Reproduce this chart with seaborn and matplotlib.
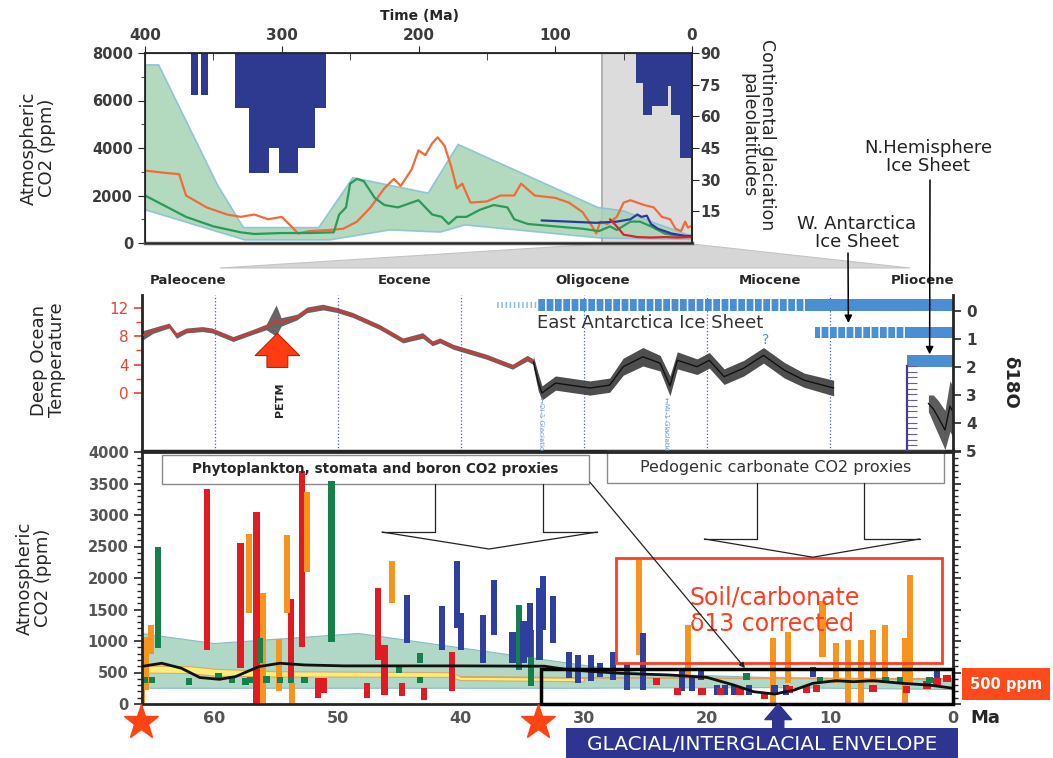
import numpy as np
import pandas as pd
import matplotlib.pyplot as plt
import seaborn as sns
from matplotlib.patches import Rectangle, Polygon
from matplotlib.ticker import MultipleLocator, FixedLocator
from matplotlib.transforms import blended_transform_factory as btf

sns.set_style('ticks')
plt.rcParams['font.family'] = ['DejaVu Sans']
plt.rcParams['hatch.color'] = 'white'
plt.rcParams['hatch.linewidth'] = 1.1

# === TOP PANEL DATA: 400 Ma -> 0 (ppm) ===
env_up_t = [400, 390, 347, 328, 273, 248, 193, 171, 69, 50, 30, 0]
env_up_v = [7500, 7500, 2450, 650, 650, 2750, 2100, 4150, 1500, 1350, 900, 280]
env_lo_t = [400, 327, 265, 221, 184, 166, 67, 0]
env_lo_v = [1400, 130, 130, 550, 460, 760, 210, 150]

orange_t = [400, 385, 375, 370, 355, 340, 330, 320, 310, 300, 293, 288, 280, 265, 255, 245,
            235, 225, 218, 213, 205, 200, 195, 190, 186, 181, 176, 172, 168, 162, 150, 140,
            130, 125, 115, 100, 90, 80, 73, 70, 67, 62, 55, 50, 45, 35, 28, 22, 16, 12, 8, 5, 3, 1]
orange_v = [3050, 2950, 2900, 2000, 1500, 1200, 1100, 1200, 1000, 1100, 700, 400, 500, 550, 600, 900,
            1500, 2300, 2700, 2400, 3100, 3900, 3700, 4200, 4450, 4100, 3200, 2300, 2500, 1700, 1750, 2000,
            2000, 2500, 2000, 1900, 1700, 1300, 700, 400, 900, 800, 1100, 1700, 1800, 1600, 1500, 1100, 1000, 600, 500, 900, 650, 700]
green_t = [400, 390, 370, 350, 330, 320, 300, 280, 262, 258, 253, 250, 245, 240, 232, 225, 215,
           205, 200, 195, 190, 183, 178, 172, 165, 155, 145, 135, 130, 120, 100, 80, 68, 60, 55,
           45, 38, 30, 20, 10, 0]
green_v = [2000, 1700, 1100, 700, 450, 380, 420, 420, 450, 1200, 1500, 2500, 2700, 2600, 1900, 1600, 1500,
           1700, 1800, 1500, 1200, 1100, 800, 1100, 1100, 1400, 1600, 1500, 1000, 800, 700, 600, 500, 700, 550,
           900, 900, 700, 400, 300, 280]
blue_t = [110, 90, 70, 55, 45, 40, 37, 33, 30, 25, 20, 15, 10, 5, 0]
blue_v = [950, 900, 850, 900, 1000, 1200, 1100, 1150, 800, 600, 500, 400, 350, 300, 300]
red_t = [60, 55, 50, 40, 30, 20, 10, 0]
red_v = [1000, 700, 350, 250, 230, 250, 230, 250]

# continental glaciation: older Ma, younger Ma, lowest paleolatitude
glac_old = [366, 359, 334, 324, 324, 302, 41.0, 35.6, 29.0, 17.3, 15.4, 8.8]
glac_young = [361, 354, 268, 276, 309, 288, 35.6, 29.0, 17.3, 15.4, 8.8, 0.0]
glac_lat = [70, 70, 64, 45, 33, 33, 75.6, 60.4, 65.1, 74.6, 60.4, 40.1]

# === MIDDLE PANEL DATA ===
temp1_ma = [66.0, 65.0, 63.7, 63.1, 62.3, 61.0, 60.2, 58.5, 56.9, 55.8, 55.0, 54.6, 53.3, 52.5,
            51.2, 50.1, 48.8, 46.6, 44.7, 43.1, 42.3, 41.7, 40.6, 37.9, 35.8, 34.6, 34.1]
temp1 = [8.0, 8.8, 9.5, 8.1, 8.8, 9.0, 8.8, 7.6, 8.6, 9.3, 10.2, 10.0, 10.7, 11.7,
         12.1, 11.7, 11.0, 9.3, 7.4, 8.1, 7.0, 7.4, 6.5, 5.1, 3.7, 4.9, 4.4]
temp1_sd = [0.7, 0.4, 0.35, 0.4, 0.35, 0.35, 0.35, 0.35, 0.35, 0.4, 2.2, 0.6, 0.4, 0.4,
            0.4, 0.35, 0.35, 0.35, 0.35, 0.4, 0.35, 0.35, 0.35, 0.35, 0.35, 0.4, 0.4]
temp2_ma = [34.1, 33.7, 33.4, 32.3, 30.3, 29.5, 27.9, 26.8, 25.2, 23.8, 23.0, 22.4, 20.8, 19.8,
            18.6, 17.0, 15.4, 13.7, 12.1, 9.7]
temp2 = [4.4, 1.5, 0.0, 1.4, 0.9, 0.7, 1.1, 3.7, 5.1, 4.2, 1.0, 4.6, 3.7, 4.6,
         2.3, 3.5, 5.3, 3.2, 1.8, 0.7]
temp2_sd = [0.8, 1.2, 1.0, 1.0, 1.0, 1.0, 1.0, 1.2, 1.3, 1.1, 1.4, 1.2, 1.1, 1.1,
            1.1, 1.1, 1.1, 1.1, 1.0, 1.1]
plio_ma = [2.0, 1.6, 1.2, 0.65, 0.25, 0.0]
plio_d18 = [3.3, 3.5, 3.8, 4.25, 3.4, 3.6]
plio_sd = [0.3, 0.5, 0.6, 0.7, 0.9, 0.9]

epoch_names = ['Paleocene', 'Eocene', 'Oligocene', 'Miocene', 'Pliocene']
epoch_mid = [62.2, 44.6, 29.3, 14.9, 2.5]
grid_ma = [60, 50, 40, 30, 20, 10]
event_ma = [33.5, 23.3]
event_names = ['\u2190Oi-1 Glaciation', '\u2190Mi-1 Glaciation']

# ice sheets on d18O axis
ice_top = [-0.42, 0.57, 1.57]
ice_bot = [0.0, 0.96, 2.0]
ice_onset = [33.8, 11.2, 3.7]
ice_full = [11.6, 3.4, 3.7]
ea_precursor = 37.1

# === BOTTOM PANEL DATA: proxies (Ma, low ppm, high ppm) ===
red_ma = [60.6, 57.9, 56.6, 53.8, 52.9, 51.6, 51.1, 47.6, 46.7, 46.2, 44.8, 43.0, 40.7]
red_lo = [860, 570, 0, 330, 910, 90, 170, 90, 700, 140, 120, 60, 200]
red_hi = [3420, 2560, 3045, 1665, 3700, 410, 410, 330, 1840, 940, 330, 250, 830]
org_ma = [65.9, 65.6, 65.2, 57.2, 56.1, 54.8, 54.1, 53.7, 52.5, 45.6, 25.5, 21.5,
          14.6, 13.4, 10.6, 9.5, 8.5, 7.5, 6.5, 5.5, 3.9, 3.5]
org_lo = [0, 220, 800, 1450, 0, 200, 1440, 0, 2100, 1610, 780, 435,
          0, 330, 750, 330, 0, 0, 330, 380, 0, 330]
org_hi = [280, 1070, 1260, 2700, 1760, 1030, 2690, 330, 3370, 2265, 2290, 1255,
          1045, 1150, 1630, 965, 1020, 1020, 1175, 1255, 1045, 2050]
grn_ma = [64.6, 56.3, 50.5, 43.3, 35.3, 34.3]
grn_lo = [885, 650, 990, 650, 540, 330]
grn_hi = [2490, 1045, 3540, 805, 1575, 1180]
blu_ma = [44.4, 41.5, 40.3, 40.0, 38.2, 37.3, 35.8, 34.9, 34.4, 33.6, 33.3, 32.5,
          31.2, 30.5, 29.4, 28.7, 27.6, 26.5, 25.2, 22.0, 21.2, 20.5,
          19.2, 18.5, 17.8, 16.6, 14.5, 13.6, 11.4, 1.3]
blu_lo = [965, 860, 1200, 860, 650, 1100, 650, 650, 750, 700, 1180, 965,
          420, 330, 360, 430, 380, 220, 220, 200, 200, 380,
          140, 140, 140, 140, 150, 150, 430, 380]
blu_hi = [1735, 1550, 2265, 1440, 1415, 1970, 1150, 1310, 1600, 1840, 2030, 1720,
          820, 780, 780, 650, 830, 640, 1120, 540, 450, 570,
          300, 300, 300, 300, 300, 300, 590, 560]
red_sq_ma = [24.1, 22.4, 20.4, 18.9, 17.3, 15.3, 13.3, 11.9, 11.1, 6.5, 3.8, 2.1, 1.3, 0.5]
red_sq_ppm = [355, 195, 195, 195, 195, 140, 225, 225, 250, 250, 225, 300, 355, 400]
grn_sq_ma = [65.7, 65.1, 62.1, 59.7, 58.6, 57.5, 57.1, 55.8, 54.7, 53.8, 52.7, 45.0, 43.3, 34.3,
             16.8, 10.8, 5.5, 4.3, 1.9]
grn_sq_ppm = [380, 380, 355, 435, 390, 355, 380, 390, 380, 380, 380, 550, 380, 330,
              435, 380, 380, 380, 380]

co2_env_up_ma = [66, 60, 48.3, 31.3, 25, 15, 0]
co2_env_up = [1120, 960, 1120, 650, 480, 420, 380]
co2_env_lo_ma = [66, 31, 15, 0]
co2_env_lo = [250, 250, 260, 230]
yel_ma = [66, 62, 60, 55, 50, 41, 40, 35, 30]
yel_hi = [610, 600, 560, 520, 515, 505, 440, 430, 420]
yel_lo = [500, 490, 450, 435, 435, 430, 380, 370, 360]
brn_ma = [40, 30, 20, 10, 0]
brn_v = [430, 415, 410, 405, 400]
smooth_ma = [66, 64.3, 62.7, 61.2, 59.6, 58.3, 56.4, 54.7, 52.7, 49.5, 40, 33.2, 31.1, 27.0,
             23.0, 20.0, 17.8, 16.2, 14.5, 12.9, 11.4, 9.5, 8.1, 6.5, 4.1, 1.9, 0.0]
smooth_ppm = [594, 647, 568, 420, 392, 435, 594, 647, 620, 605, 605, 600, 540, 487,
              460, 423, 300, 195, 158, 222, 328, 370, 354, 370, 328, 300, 250]
star_ma = [66.0, 33.7]

W, H = 1053, 758


def fr(x0, y0, x1, y1):
    return [x0 / W, 1 - y1 / H, (x1 - x0) / W, (y1 - y0) / H]


def ftext(x, y, s, **kw):
    return fig.text(x / W, 1 - y / H, s, **kw)


def frect(x0, y0, x1, y1, **kw):
    fig.add_artist(Rectangle((x0 / W, 1 - y1 / H), (x1 - x0) / W, (y1 - y0) / H,
                             transform=fig.transFigure, **kw))


tick_gray = '#3c3c3c'
fig = plt.figure(figsize=(10.53, 7.58), dpi=100)

# === TOP PANEL ===
ax_t = fig.add_axes(fr(145, 53, 692, 243))
ax_t.set_xlim(400, 0)
ax_t.set_ylim(0, 8000)
ax_t.axvspan(66, 0, color='#dcdcdc', zorder=0)
ax_t.axvline(66, color='#a8a8a8', lw=1.2, zorder=0.5)
ax_t.fill(env_up_t + env_lo_t[::-1], env_up_v + env_lo_v[::-1], fc='#a6d3b4', ec='#86bfd4',
          lw=1.2, alpha=0.85, zorder=1)
sns.lineplot(x=orange_t, y=orange_v, ax=ax_t, color='#f26a3a', lw=1.6, sort=False, estimator=None, zorder=3)
sns.lineplot(x=green_t, y=green_v, ax=ax_t, color='#2a9a58', lw=1.6, sort=False, estimator=None, zorder=3)
sns.lineplot(x=blue_t, y=blue_v, ax=ax_t, color='#2b3a9a', lw=1.6, sort=False, estimator=None, zorder=3)
sns.lineplot(x=red_t, y=red_v, ax=ax_t, color='#e3202a', lw=1.6, sort=False, estimator=None, zorder=3)
ax_t.set_xlabel('')
ax_t.set_ylabel('')
ax_t.xaxis.tick_top()
ax_t.set_xticks([400, 300, 200, 100, 0])
ax_t.xaxis.set_minor_locator(MultipleLocator(50))
ax_t.tick_params(axis='x', which='major', direction='out', length=5, labelsize=11, pad=2)
ax_t.tick_params(axis='x', which='minor', direction='in', length=5)
ax_t.set_yticks([0, 2000, 4000, 6000, 8000])
ax_t.yaxis.set_minor_locator(MultipleLocator(1000))
ax_t.tick_params(axis='y', which='major', length=5, labelsize=10.5)
ax_t.tick_params(axis='y', which='minor', length=3)
for lab in ax_t.get_xticklabels() + ax_t.get_yticklabels():
    lab.set_fontweight('bold')
    lab.set_color(tick_gray)
for s in ax_t.spines.values():
    s.set_linewidth(1.3)
ax_t.spines['bottom'].set_color('#5a5a5a')
ax_t.spines['bottom'].set_linewidth(2.5)

ax_g = ax_t.twinx()
ax_g.set_ylim(0, 90)
g_center = [(a + b) / 2 for a, b in zip(glac_old, glac_young)]
g_width = [a - b for a, b in zip(glac_old, glac_young)]
ax_g.bar(g_center, [90 - v for v in glac_lat], bottom=glac_lat, width=g_width,
         color='#2e3a8f', linewidth=0, zorder=2)
ax_g.set_yticks([15, 30, 45, 60, 75, 90])
ax_g.tick_params(axis='y', length=5, labelsize=10.5, pad=1)
for lab in ax_g.get_yticklabels():
    lab.set_fontweight('bold')
    lab.set_color(tick_gray)
ax_g.spines['right'].set_linewidth(1.3)

ftext(420, 16, 'Time (Ma)', fontweight='bold', fontsize=10, ha='center', va='center')
ftext(38, 148, 'Atmospheric\nCO2 (ppm)', rotation=90, fontsize=13, ha='center', va='center',
      linespacing=1.05)
ftext(758, 135, 'Continental glaciation\npaleolatitudes', rotation=270, fontsize=12.5,
      ha='center', va='center', linespacing=1.05)

# zoom wedge from top panel to Cenozoic panels
fig.add_artist(Polygon([(600 / W, 1 - 244 / H), (692 / W, 1 - 244 / H), (910 / W, 1 - 268 / H),
                        (220 / W, 1 - 268 / H)], closed=True, transform=fig.transFigure,
                       fc='#d6d6d6', ec='#c4c4c4', lw=0.8, zorder=0))

# === MIDDLE PANEL ===
ax_m = fig.add_axes(fr(142, 295, 953, 451))
ax_m.set_xlim(65.9, 0)
ax_m.set_ylim(-8.17, 13.8)
ax_m.patch.set_alpha(0)
for g in grid_ma:
    ax_m.axvline(g, ls=':', color='#4a5ac0', lw=0.9, zorder=0)
for e, name in zip(event_ma, event_names):
    ax_m.vlines(e, -8.17, -0.4, ls=':', color='#8ab4e0', lw=1.0, zorder=0)
    ax_m.text(e, -0.6, name, rotation=270, fontsize=5, color='#7aa6d8', ha='center', va='top')
t1_lo = [v - s for v, s in zip(temp1, temp1_sd)]
t1_hi = [v + s for v, s in zip(temp1, temp1_sd)]
t2_lo = [v - s for v, s in zip(temp2, temp2_sd)]
t2_hi = [v + s for v, s in zip(temp2, temp2_sd)]
ax_m.fill_between(temp1_ma, t1_lo, t1_hi, color='#4a4a4a', alpha=0.85, lw=0, zorder=1)
ax_m.fill_between(temp2_ma, t2_lo, t2_hi, color='#444444', alpha=0.95, lw=0, zorder=1)
sns.lineplot(x=temp1_ma, y=temp1, ax=ax_m, color='#e8302a', lw=1.3, sort=False, estimator=None, zorder=3)
sns.lineplot(x=temp2_ma, y=temp2, ax=ax_m, color='#111111', lw=1.0, sort=False, estimator=None, zorder=3)
ax_m.set_xlabel('')
ax_m.set_ylabel('')
ax_m.set_xticks([])
ax_m.set_yticks([0, 4, 8, 12])
ax_m.yaxis.set_minor_locator(FixedLocator([2, 6, 10]))
ax_m.tick_params(axis='y', which='major', colors='#e8452c', length=6, width=1.2, labelsize=11)
ax_m.tick_params(axis='y', which='minor', colors='#e8452c', length=4, width=1.0)
ax_m.spines['top'].set_visible(False)
ax_m.spines['left'].set_linewidth(2)
ax_m.spines['bottom'].set_linewidth(2.5)

ax_m.annotate('', xy=(54.9, 8.4), xytext=(54.9, 3.6),
              arrowprops=dict(arrowstyle='simple,head_length=0.8,head_width=1.6,tail_width=0.75',
                              mutation_scale=20, fc='#ff3b12', ec='#c02000', lw=0.8,
                              shrinkA=0, shrinkB=0))
ax_m.text(54.7, -0.9, 'PETM', rotation=90, fontweight='bold', fontsize=8, ha='center', va='center')
ep_tr = btf(ax_m.transData, ax_m.transAxes)
for name, x in zip(epoch_names, epoch_mid):
    ax_m.text(x, 1.09, name, transform=ep_tr, fontweight='bold', fontsize=9.5, ha='center',
              va='center')

ax_d = ax_m.twinx()
ax_d.set_ylim(5.0, -0.57)
ax_d.spines['top'].set_visible(False)
ax_d.spines['right'].set_linewidth(2)
ice_blue = '#4a8fd4'
for top, bot, onset, full in zip(ice_top, ice_bot, ice_onset, ice_full):
    if onset > full:
        ax_d.bar((onset + full) / 2, bot - top, bottom=top, width=onset - full, color=ice_blue,
                 edgecolor='white', hatch='||', linewidth=0, zorder=2)
    ax_d.bar(full / 2 - 0.15, bot - top, bottom=top, width=full + 0.3, color=ice_blue,
             linewidth=0, zorder=2)
ax_d.bar((ea_precursor + ice_onset[0]) / 2, (ice_bot[0] - ice_top[0]) * 0.5,
         bottom=ice_top[0] + 0.1, width=ea_precursor - ice_onset[0], color='none',
         edgecolor='#8fbbe6', hatch='||||', linewidth=0, zorder=2)
ax_d.text(ice_onset[0], 0.42, 'East Antarctica Ice Sheet', fontsize=13, color='#333333',
          ha='left', va='center')
ax_d.text(15.2, 1.02, '?', fontsize=10, color='#5b8fd0', ha='center', va='center')
p_lo = [v - s for v, s in zip(plio_d18, plio_sd)]
p_hi = [v + s for v, s in zip(plio_d18, plio_sd)]
ax_d.fill_between(plio_ma, p_lo, p_hi, color='#4a4a4a', alpha=0.9, lw=0, zorder=1)
sns.lineplot(x=plio_ma, y=plio_d18, ax=ax_d, color='#111111', lw=1.0, sort=False, estimator=None)
ax_d.set_ylabel('')
ax_d.set_yticks([0, 1, 2, 3, 4, 5])
ax_d.tick_params(axis='y', length=6, width=1.2, labelsize=11)
for lab in ax_d.get_yticklabels():
    lab.set_fontweight('bold')
    lab.set_color(tick_gray)

ax_d.annotate('', xy=(8.5, 0.43), xycoords='data', xytext=(848, H - 253),
              textcoords='figure pixels',
              arrowprops=dict(arrowstyle='-|>', color='black', lw=1.1, shrinkA=0, shrinkB=0,
                              mutation_scale=11))
ax_d.annotate('', xy=(1.9, 1.55), xycoords='data', xytext=(930, H - 180),
              textcoords='figure pixels',
              arrowprops=dict(arrowstyle='-|>', color='black', lw=1.1, shrinkA=0, shrinkB=0,
                              mutation_scale=11))
ftext(857, 233, 'W. Antarctica\nIce Sheet', fontsize=13, color='#222222', ha='center',
      va='center', linespacing=1.05)
ftext(928, 157, 'N.Hemisphere\nIce Sheet', fontsize=13, color='#222222', ha='center',
      va='center', linespacing=1.05)
ftext(48, 360, 'Deep Ocean\nTemperature', rotation=90, fontsize=13, ha='center', va='center',
      linespacing=1.05)
ftext(1010, 382, '\u03b418O', rotation=270, fontsize=13, fontweight='bold', ha='center',
      va='center')

# Pliocene ruler
ax_r = fig.add_axes(fr(907, 366, 909, 451))
ax_r.set_ylim(5, 2)
ax_r.set_xlim(0, 1)
ax_r.patch.set_alpha(0)
for k in ['top', 'right', 'bottom']:
    ax_r.spines[k].set_visible(False)
ax_r.spines['left'].set_color('#4b3a9a')
ax_r.spines['left'].set_linewidth(1.6)
ax_r.yaxis.set_major_locator(MultipleLocator(0.2))
ax_r.tick_params(axis='y', direction='in', length=7, color='#6a5ab0', labelleft=False)
ax_r.set_xticks([])

# === BOTTOM PANEL ===
ax_b = fig.add_axes(fr(142, 452, 953, 704))
ax_b.set_xlim(65.9, 0)
ax_b.set_ylim(0, 4000)
ax_b.fill(co2_env_up_ma + co2_env_lo_ma[::-1], co2_env_up + co2_env_lo[::-1], fc='#a9d4c0',
          ec='#7fb8c0', lw=0.8, alpha=0.9, zorder=1)
ax_b.fill_between(yel_ma, yel_lo, yel_hi, color='#f7ee7a', ec='#e0a860', lw=0.8, zorder=1.2)
sns.lineplot(x=brn_ma, y=brn_v, ax=ax_b, color='#e0a060', lw=1.2, sort=False, estimator=None)

box_kw = dict(fc='white', ec='#8a8a8a', lw=1.0, zorder=1.5, clip_on=False)
ax_b.add_patch(Rectangle((29.6, 3500), 34.7, 460, **box_kw))
ax_b.add_patch(Rectangle((0.7, 3510), 27.4, 500, **box_kw))

bw = 0.5
ax_b.bar(red_ma, [h - l for h, l in zip(red_hi, red_lo)], bottom=red_lo, width=bw,
         color='#e01b24', lw=0, zorder=2)
ax_b.bar(org_ma, [h - l for h, l in zip(org_hi, org_lo)], bottom=org_lo, width=bw,
         color='#f7941d', lw=0, zorder=2)
ax_b.bar(grn_ma, [h - l for h, l in zip(grn_hi, grn_lo)], bottom=grn_lo, width=bw,
         color='#14804a', lw=0, zorder=2)
ax_b.bar(blu_ma, [h - l for h, l in zip(blu_hi, blu_lo)], bottom=blu_lo, width=bw,
         color='#2e3f9e', lw=0, zorder=2)
sns.scatterplot(x=red_sq_ma, y=red_sq_ppm, ax=ax_b, marker='s', s=28, color='#e01b24',
                edgecolor='none', zorder=2.5)
sns.scatterplot(x=grn_sq_ma, y=grn_sq_ppm, ax=ax_b, marker='s', s=22, color='#14804a',
                edgecolor='none', zorder=2.5)
sns.lineplot(x=smooth_ma, y=smooth_ppm, ax=ax_b, color='#111111', lw=2, sort=False,
             estimator=None, zorder=3)
ax_b.set_xlabel('')
ax_b.set_ylabel('')

# envelope boxes
ax_b.add_patch(Rectangle((0, 0), 33.5, 550, fc='none', ec='black', lw=2.5, zorder=4, clip_on=False))
ax_b.add_patch(Rectangle((0.9, 650), 26.5, 1670, fc='none', ec='#ff3d1f', lw=2, zorder=4))
ax_b.text(21.4, 1480, 'Soil/carbonate\n\u03b413 corrected', fontsize=17, color='#ff3d1f',
          ha='left', va='center', linespacing=1.1, zorder=5)

ax_b.text(46.95, 3730, 'Phytoplankton, stomata and boron CO2 proxies', fontsize=9.8,
          fontweight='bold', ha='center', va='center', zorder=5)
ax_b.text(14.4, 3760, 'Pedogenic carbonate CO2 proxies', fontsize=11.5, color='#333333',
          ha='center', va='center', zorder=5)
line_kw = dict(color='#222222', lw=0.9, zorder=4)
ax_b.plot([42.1, 42.1, 46.4], [3500, 2730, 2730], **line_kw)
ax_b.plot([46.4, 37.7, 28.9], [2730, 2460, 2730], **line_kw)
ax_b.plot([33.3, 33.3, 28.9], [3500, 2730, 2730], **line_kw)
ax_b.plot([15.9, 15.9, 20.2], [3510, 2620, 2620], **line_kw)
ax_b.plot([20.2, 11.4, 2.7], [2620, 2330, 2620], **line_kw)
ax_b.plot([7.2, 7.2, 2.7], [3510, 2620, 2620], **line_kw)
ax_b.annotate('', xy=(16.9, 570), xytext=(29.5, 3520),
              arrowprops=dict(arrowstyle='-|>', color='#222222', lw=0.9, shrinkA=0, shrinkB=0,
                              mutation_scale=8), zorder=5)

ax_b.set_xticks([60, 50, 40, 30, 20, 10, 0])
ax_b.set_yticks(range(0, 4001, 500))
ax_b.yaxis.set_minor_locator(MultipleLocator(100))
ax_b.tick_params(axis='x', length=0, labelsize=11.5, pad=5)
ax_b.tick_params(axis='y', which='major', length=6, width=1.2, labelsize=10.5, right=True)
ax_b.tick_params(axis='y', which='minor', length=3.5, width=1.0, right=True)
for lab in ax_b.get_xticklabels() + ax_b.get_yticklabels():
    lab.set_fontweight('bold')
    lab.set_color('#555555')
for s in ax_b.spines.values():
    s.set_linewidth(2)

st_tr = btf(ax_b.transData, ax_b.transAxes)
ax_b.plot(star_ma, [-0.07] * len(star_ma), transform=st_tr, marker='*', ms=26, ls='none',
          color='#ff4414', mec='#ff4414', clip_on=False, zorder=6)
ax_b.annotate('', xy=(14.2, 0.0), xycoords=st_tr, xytext=(14.2, -0.15), textcoords=st_tr,
              arrowprops=dict(arrowstyle='simple,head_length=0.7,head_width=1.2,tail_width=0.5',
                              mutation_scale=16, fc='#2d3591', ec='#2d3591', shrinkA=0,
                              shrinkB=0), annotation_clip=False, zorder=6)
ftext(34, 578, 'Atmospheric\nCO2 (ppm)', rotation=90, fontsize=13, ha='center', va='center',
      linespacing=1.05)

frect(962, 668, 1050, 700, fc='#ff4a1c', ec='none')
ftext(1006, 684, '500 ppm', color='white', fontweight='bold', fontsize=10.5, ha='center',
      va='center')
ftext(985, 718, 'Ma', fontweight='bold', fontsize=13, ha='center', va='center')
frect(566, 728, 958, 758, fc='#2d3591', ec='none', zorder=5)
ftext(762, 744, 'GLACIAL/INTERGLACIAL ENVELOPE', color='white', fontsize=14.5, ha='center',
      va='center', zorder=6)

fig.savefig('out.png', dpi=100)
